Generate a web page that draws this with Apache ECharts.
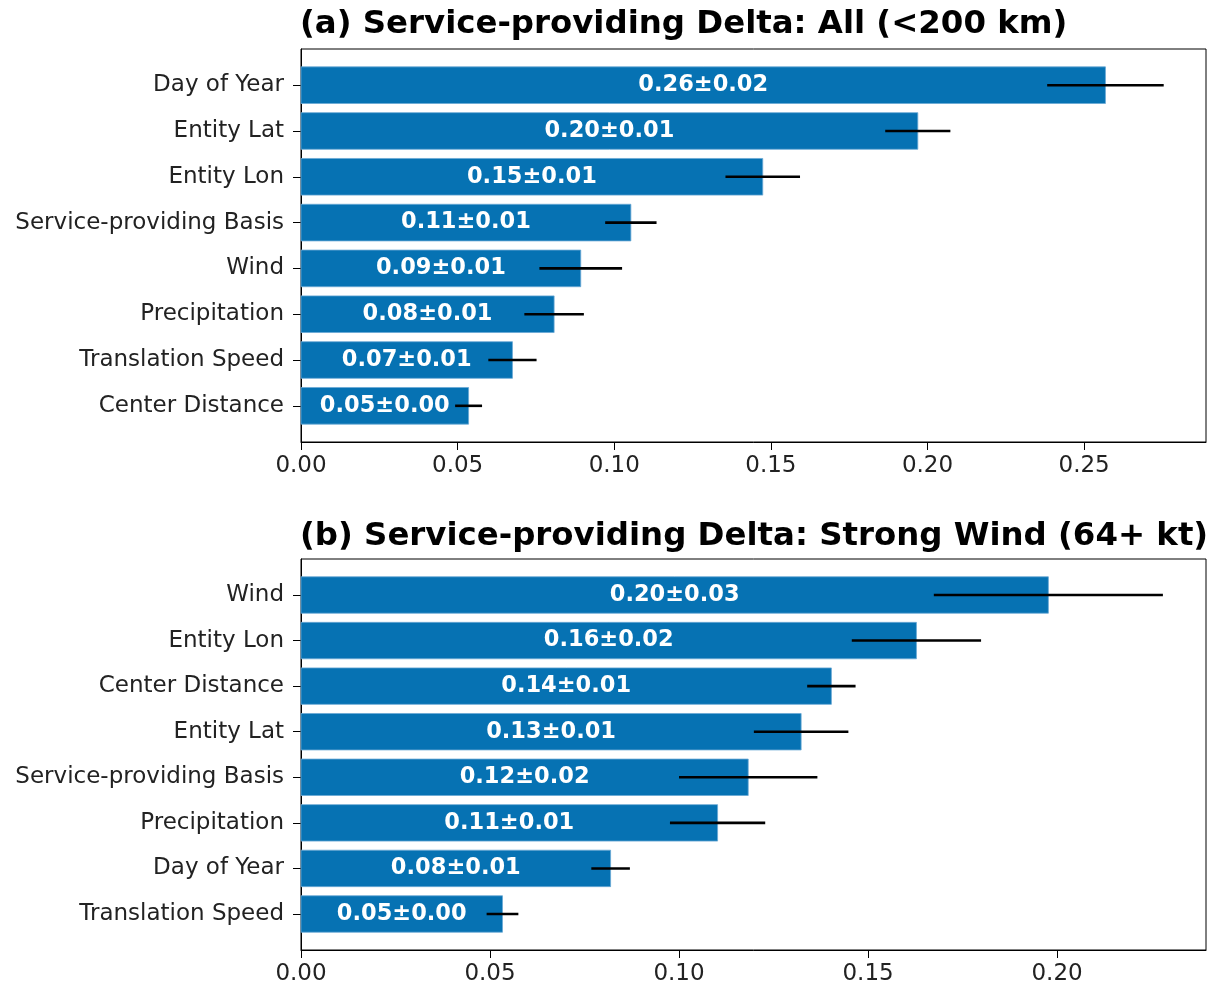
<!DOCTYPE html>
<html>
<head>
<meta charset="utf-8">
<title>Service-providing Delta</title>
<script src="https://cdn.jsdelivr.net/npm/echarts@6/dist/echarts.min.js"></script>
<style>
  html, body { margin: 0; padding: 0; background: #fff; }
  #chartId { width: 1217px; height: 989px; }
</style>
</head>
<body>
<div id="chartId"></div>
<script>
// (a) All (<200 km)
const catsA = ["Day of Year", "Entity Lat", "Entity Lon", "Service-providing Basis",
  "Wind", "Precipitation", "Translation Speed", "Center Distance"];
const valsA = [0.2568, 0.1969, 0.1474, 0.1053, 0.0893, 0.0808, 0.0675, 0.0535];
const errsA = [0.0186, 0.0104, 0.0119, 0.0082, 0.0132, 0.0095, 0.0077, 0.0043];
const ticksA = [0, 0.05, 0.10, 0.15, 0.20, 0.25];

// (b) Strong Wind (64+ kt)
const catsB = ["Wind", "Entity Lon", "Center Distance", "Entity Lat",
  "Service-providing Basis", "Precipitation", "Day of Year", "Translation Speed"];
const valsB = [0.1977, 0.1628, 0.1403, 0.1323, 0.1183, 0.1102, 0.0819, 0.0533];
const errsB = [0.0303, 0.0171, 0.0064, 0.0125, 0.0183, 0.0126, 0.0051, 0.0042];
const ticksB = [0, 0.05, 0.10, 0.15, 0.20];

const barColor = "#0672b3";
const txtColor = "#222";
const font = "DejaVu Sans";
const catIdx = [0, 1, 2, 3, 4, 5, 6, 7];

let makeX = (gi, max, ticks) => ({
  type: "value",
  gridIndex: gi,
  min: 0,
  max: max,
  splitLine: { show: false },
  axisLine: { show: true, onZero: false, lineStyle: { color: "#000", width: 1 } },
  axisTick: { show: true, length: 8, customValues: ticks, lineStyle: { color: "#000", width: 1 } },
  axisLabel: {
    customValues: ticks,
    margin: 13,
    color: txtColor,
    fontFamily: font,
    fontSize: 23,
    formatter: (v) => v.toFixed(2),
  },
});

let makeY = (gi, cats) => ({
  type: "value",
  gridIndex: gi,
  inverse: true,
  min: -0.79,
  max: 7.79,
  splitLine: { show: false },
  axisLine: { show: true, onZero: false, lineStyle: { color: "#000", width: 1 } },
  axisTick: { show: true, length: 8, customValues: catIdx, lineStyle: { color: "#000", width: 1 } },
  axisLabel: {
    customValues: catIdx,
    margin: 17,
    color: txtColor,
    fontFamily: font,
    fontSize: 23,
    formatter: (v) => cats[Math.round(v)] || "",
  },
});

let barSeries = (gi, vals, errs) => ({
  type: "custom",
  xAxisIndex: gi,
  yAxisIndex: gi,
  data: vals.map((v, i) => [i, v, errs[i]]),
  encode: { x: 1, y: 0 },
  renderItem: (params, api) => {
    let i = api.value(0);
    let v = api.value(1);
    let e = api.value(2);
    let p0 = api.coord([0, i]);
    let p1 = api.coord([v, i]);
    let h = api.size([0, 0.8])[1];
    let lo = api.coord([v - e, i]);
    let hi = api.coord([v + e, i]);
    let mid = api.coord([v / 2, i]);
    return {
      type: "group",
      children: [
        {
          type: "rect",
          shape: { x: p0[0], y: p0[1] - h / 2, width: p1[0] - p0[0], height: h },
          style: { fill: barColor, stroke: "#6aa8d4", lineWidth: 0.8 },
        },
        {
          type: "line",
          shape: { x1: lo[0], y1: lo[1], x2: hi[0], y2: hi[1] },
          style: { stroke: "#000", lineWidth: 2.6 },
        },
        {
          type: "text",
          x: mid[0],
          y: mid[1],
          style: {
            text: v.toFixed(2) + "±" + e.toFixed(2),
            fill: "#fff",
            font: "bold 22.5px 'DejaVu Sans'",
            align: "center",
            verticalAlign: "middle",
          },
        },
      ],
    };
  },
});

let init = () => {
  let chart = echarts.init(document.getElementById("chartId"), null, { renderer: "canvas" });
  let titleStyle = { fontFamily: font, fontWeight: "bold", fontSize: 32.4, lineHeight: 38, color: "#000" };
  let option = {
    animation: false,
    backgroundColor: "#fff",
    title: [
      { text: "(a) Service-providing Delta: All (<200 km)", left: 300, top: 6, padding: 0, textStyle: titleStyle },
      { text: "(b) Service-providing Delta: Strong Wind (64+ kt)", left: 300, top: 518, padding: 0, textStyle: titleStyle },
    ],
    grid: [
      { left: 301, top: 49, width: 905, height: 393, show: true, borderColor: "#000", borderWidth: 1, backgroundColor: "transparent" },
      { left: 301, top: 559, width: 905, height: 391, show: true, borderColor: "#000", borderWidth: 1, backgroundColor: "transparent" },
    ],
    xAxis: [makeX(0, 0.2889, ticksA), makeX(1, 0.2394, ticksB)],
    yAxis: [makeY(0, catsA), makeY(1, catsB)],
    series: [barSeries(0, valsA, errsA), barSeries(1, valsB, errsB)],
  };
  chart.setOption(option);
  return chart;
};

init();
</script>
</body>
</html>
